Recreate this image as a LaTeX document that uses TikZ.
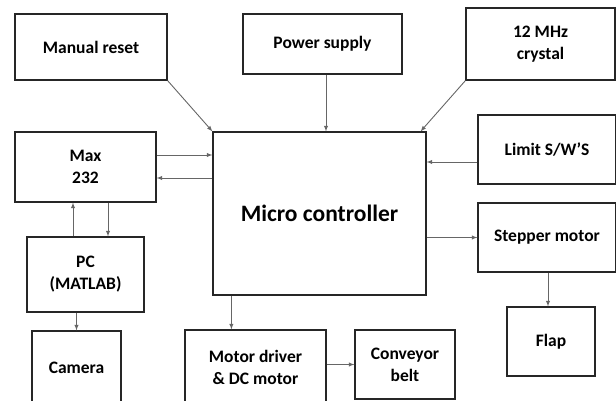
\documentclass[tikz,border=0pt]{standalone}
\usepackage{fontspec}
\setmainfont{Carlito}
\usetikzlibrary{positioning}

\tikzset{
  block/.style={draw, line width=1.2pt, draw=black!85, align=center,
    font=\fontsize{17.5}{22}\selectfont\bfseries, inner sep=0pt},
  arr/.style={draw, ->, >=latex, draw=black!60, line width=0.9pt}
}

\begin{document}
\begin{tikzpicture}[x=1pt, y=-1pt]

\useasboundingbox (0,0) rectangle (616,401);

\node[block, minimum width=152pt, minimum height=66pt] (reset) at (91,47) {Manual reset};
\node[block, minimum width=159pt, minimum height=60pt] (power) at (322.5,44) {Power supply};
\node[block, minimum width=149pt, minimum height=72pt] (crystal) at (540.5,44) {12 MHz\\crystal};
\node[block, minimum width=213pt, minimum height=163pt,
  font=\fontsize{23.5}{28}\selectfont\bfseries] (mc) at (319.5,213.5) {Micro controller};
\node[block, minimum width=141pt, minimum height=70pt] (max) at (85.5,167) {Max\\232};
\node[block, minimum width=138pt, minimum height=69pt] (limit) at (547,149.5) {Limit S/W'S};
\node[block, minimum width=117pt, minimum height=75pt] (pc) at (85.5,274.5) {PC\\(MATLAB)};
\node[block, minimum width=89pt, minimum height=74pt] (camera) at (76.5,368) {Camera};
\node[block, minimum width=141pt, minimum height=75pt] (driver) at (255.5,367.5) {Motor driver\\\& DC motor};
\node[block, minimum width=100pt, minimum height=69pt] (belt) at (405,364.5) {Conveyor\\belt};
\node[block, minimum width=138pt, minimum height=69pt] (stepper) at (547,237.5) {Stepper motor};
\node[block, minimum width=88pt, minimum height=69pt] (flap) at (551,341.5) {Flap};

\path[every edge/.style=arr]
(reset.south east) edge (mc.north west)
([xshift=3.5pt]power.south) edge ([xshift=3.5pt]power.south |- mc.north)
(crystal.south west) edge ([xshift=-6pt]mc.north east)
([yshift=12pt]max.east) edge ([yshift=12pt]max.east -| mc.west)
([yshift=-11pt]max.east -| mc.west) edge ([yshift=-11pt]max.east)
([yshift=-12.5pt]limit.west) edge ([yshift=-12.5pt]limit.west -| mc.east)
([xshift=-12.5pt]pc.north) edge ([xshift=-12.5pt]pc.north |- max.south)
([xshift=22.5pt]max.south) edge ([xshift=22.5pt]max.south |- pc.north)
(pc.south -| camera.north) edge (camera.north)
([xshift=19pt]mc.south west) edge ([xshift=19pt]mc.south west |- driver.north)
(driver.east |- belt.west) edge (belt.west)
(mc.east |- stepper.west) edge (stepper.west)
([xshift=-3pt]flap.north |- stepper.south) edge ([xshift=-3pt]flap.north);

\end{tikzpicture}
\end{document}
